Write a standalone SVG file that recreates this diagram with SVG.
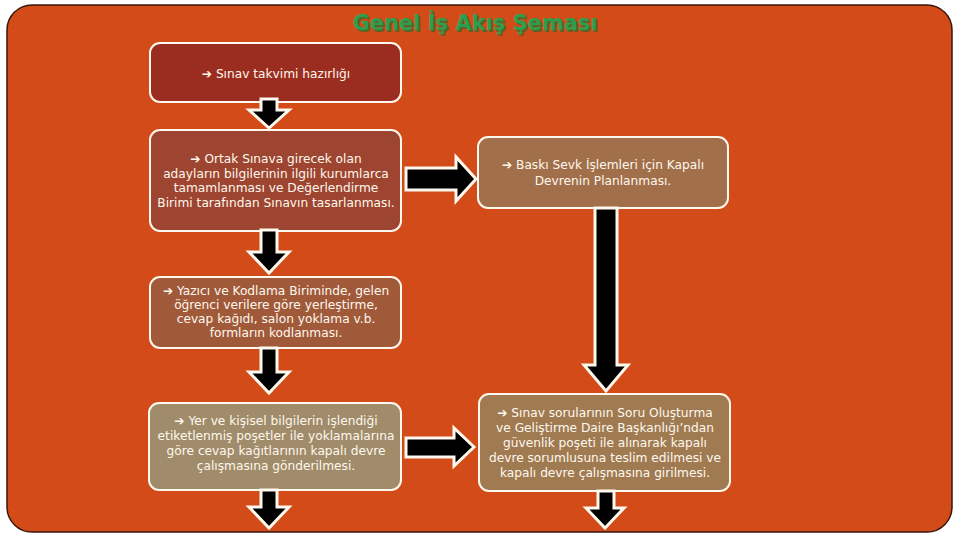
<svg xmlns="http://www.w3.org/2000/svg" width="960" height="540" viewBox="0 0 960 540">
<style>
.box{stroke:#fff8ee;stroke-width:2}
.t{font-family:"DejaVu Sans",Verdana,sans-serif;font-size:12.2px;fill:#fff8ee;text-anchor:middle}
.arr{fill:#000;stroke:#fff8ee;stroke-width:3;stroke-linejoin:miter}
.title{font-family:"DejaVu Sans",Verdana,sans-serif;font-size:21px;font-weight:bold;text-anchor:middle}
</style>
<rect width="960" height="540" fill="#ffffff"/>
<rect x="7" y="5" width="945" height="527" rx="25" ry="25" fill="#D24B18" stroke="#3a160c" stroke-width="1.5"/>
<g id="title">
<text class="title" x="476.5" y="31.5" fill="#3c6a2a" opacity="0.8">Genel İş Akış Şeması</text>
<text class="title" x="475" y="30" fill="#2e9e4e">Genel İş Akış Şeması</text>
</g>
<g id="n1">
<rect class="box" x="150" y="43" width="251" height="59" rx="10" fill="#9B2D20"/>
<text class="t" x="276" y="77.5">➔ Sınav takvimi hazırlığı</text>
</g>
<g id="n2">
<rect class="box" x="150" y="130" width="251" height="101" rx="10" fill="#9D4530"/>
<text class="t"><tspan x="276" y="163">➔ Ortak Sınava girecek olan</tspan><tspan x="276" y="177.5">adayların bilgilerinin ilgili kurumlarca</tspan><tspan x="276" y="192">tamamlanması ve Değerlendirme</tspan><tspan x="276" y="206.5">Birimi tarafından Sınavın tasarlanması.</tspan></text>
</g>
<g id="n3">
<rect class="box" x="478" y="137" width="250" height="71" rx="10" fill="#A1704A"/>
<text class="t"><tspan x="603" y="169">➔ Baskı Sevk İşlemleri için Kapalı</tspan><tspan x="603" y="185">Devrenin Planlanması.</tspan></text>
</g>
<g id="n4">
<rect class="box" x="150" y="277" width="251" height="71" rx="10" fill="#A05A3A"/>
<text class="t"><tspan x="276" y="295">➔ Yazıcı ve Kodlama Biriminde, gelen</tspan><tspan x="276" y="309">öğrenci verilere göre yerleştirme,</tspan><tspan x="276" y="323">cevap kağıdı, salon yoklama v.b.</tspan><tspan x="276" y="337">formların kodlanması.</tspan></text>
</g>
<g id="n5">
<rect class="box" x="149" y="403" width="252" height="87" rx="10" fill="#A08C6A"/>
<text class="t"><tspan x="276" y="425">➔ Yer ve kişisel bilgilerin işlendiği</tspan><tspan x="276" y="440">etiketlenmiş poşetler ile yoklamalarına</tspan><tspan x="276" y="455">göre cevap kağıtlarının kapalı devre</tspan><tspan x="276" y="470">çalışmasına gönderilmesi.</tspan></text>
</g>
<g id="n6">
<rect class="box" x="479" y="394" width="251" height="97" rx="10" fill="#A07B52"/>
<text class="t"><tspan x="605" y="417">➔ Sınav sorularının Soru Oluşturma</tspan><tspan x="605" y="432">ve Geliştirme Daire Başkanlığı’ndan</tspan><tspan x="605" y="447">güvenlik poşeti ile alınarak kapalı</tspan><tspan x="605" y="462">devre sorumlusuna teslim edilmesi ve</tspan><tspan x="605" y="477">kapalı devre çalışmasına girilmesi.</tspan></text>
</g>
<g id="connectors">
<polygon class="arr" points="261,99 277,99 277,110 289,110 269,128 249,110 261,110"/>
<polygon class="arr" points="261,230 277,230 277,252 289,252 269,273 249,252 261,252"/>
<polygon class="arr" points="261,348 277,348 277,372 289,372 269,393 249,372 261,372"/>
<polygon class="arr" points="261,490 277,490 277,507 289,507 269,528 249,507 261,507"/>
<polygon class="arr" points="595,208 617,208 617,365 628,365 606,391 584,365 595,365"/>
<polygon class="arr" points="598,491 614,491 614,508 624,508 605,528 586,508 598,508"/>
<polygon class="arr" points="406,168 456,168 456,157 476,179 456,201 456,190 406,190"/>
<polygon class="arr" points="406,438 454,438 454,428 474,447 454,466 454,457 406,457"/>
</g>
</svg>
